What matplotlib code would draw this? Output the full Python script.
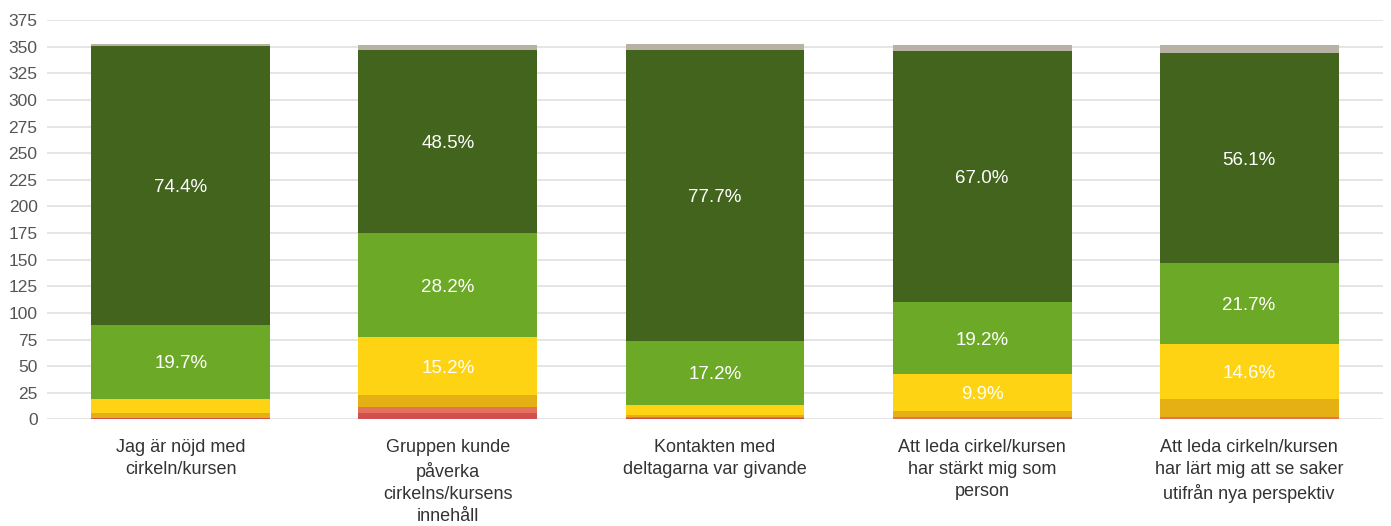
import matplotlib
matplotlib.use("Agg")
import matplotlib.pyplot as plt
import numpy as np

plt.rcParams["font.family"] = ["Liberation Sans", "DejaVu Sans"]

# 问题（x 轴标签）
categories = [
    "Jag är nöjd med\ncirkeln/kursen",
    "Gruppen kunde\npåverka\ncirkelns/kursens\ninnehåll",
    "Kontakten med\ndeltagarna var givande",
    "Att leda cirkel/kursen\nhar stärkt mig som\nperson",
    "Att leda cirkeln/kursen\nhar lärt mig att se saker\nutifrån nya perspektiv",
]

# 各回答等级的人数（自下而上）
red = [1.5, 6.5, 1.0, 0.0, 0.0]
salmon = [0.0, 5.0, 1.0, 2.3, 2.6]
dark_yellow = [4.5, 11.5, 2.5, 5.6, 17.0]
yellow = [13.5, 54.0, 9.5, 34.8, 51.0]
light_green = [69.5, 98.5, 60.0, 67.5, 76.0]
dark_green = [261.5, 171.0, 273.0, 236.0, 197.0]
gray = [2.0, 5.0, 5.0, 5.0, 7.5]

# 段内百分比标注（空字符串 = 不标注）
yellow_lbl = ["", "15.2%", "", "9.9%", "14.6%"]
light_green_lbl = ["19.7%", "28.2%", "17.2%", "19.2%", "21.7%"]
dark_green_lbl = ["74.4%", "48.5%", "77.7%", "67.0%", "56.1%"]

series = [
    (red, "#d05050", None),
    (salmon, "#e4715a", None),
    (dark_yellow, "#e5b013", None),
    (yellow, "#fdd313", yellow_lbl),
    (light_green, "#6ba927", light_green_lbl),
    (dark_green, "#42641d", dark_green_lbl),
    (gray, "#b8b2a5", None),
]

fig = plt.figure(figsize=(13.91, 5.26), dpi=100)
ax = fig.add_axes([0.034, 0.2025, 0.96, 0.7595])

x = np.arange(len(categories))
bottom = np.zeros(len(categories))
for vals, color, labels in series:
    vals = np.array(vals)
    ax.bar(x, vals, bottom=bottom, width=0.67, color=color, zorder=2)
    if labels:
        for xi, b, v, lab in zip(x, bottom, vals, labels):
            if lab:
                ax.text(xi, b + v / 2 - 2, lab, ha="center", va="center",
                        color="white", fontsize=13.5, zorder=3)
    bottom += vals

ax.set_xlim(-0.5, len(categories) - 0.5)
ax.set_ylim(0, 375)
ax.set_yticks(np.arange(0, 376, 25))
ax.yaxis.grid(True, color="#e0e0e0", linewidth=1.2, zorder=0)
ax.set_axisbelow(True)
for s in ax.spines.values():
    s.set_visible(False)
ax.tick_params(axis="y", length=0, pad=7, labelsize=12.5, labelcolor="#555555")
ax.tick_params(axis="x", length=0, pad=14)
ax.set_xticks(x)
ax.set_xticklabels(categories, fontsize=13, color="#333333", linespacing=1.4)

fig.savefig("out.png", dpi=100)
